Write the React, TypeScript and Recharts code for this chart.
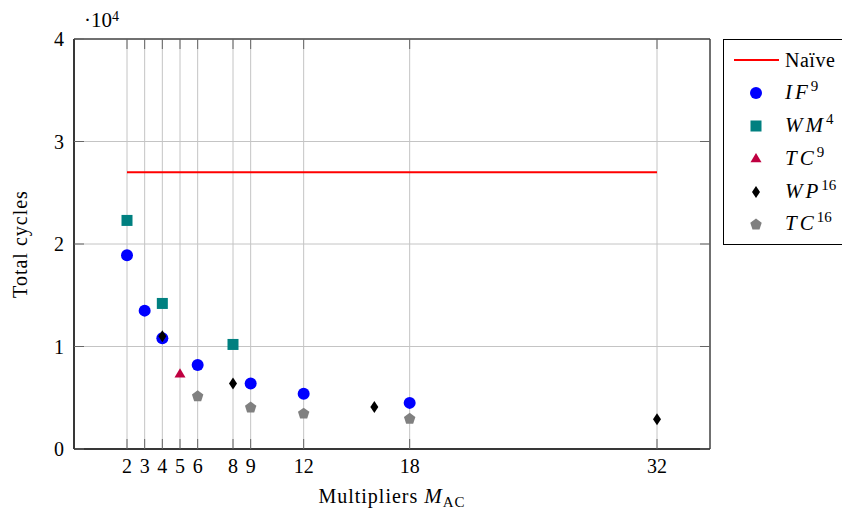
import React from 'react';
import {
  ComposedChart,
  Scatter,
  XAxis,
  YAxis,
  CartesianGrid,
  ReferenceArea,
} from 'recharts';

// ---------- data ----------
const xTicks = [2, 3, 4, 5, 6, 8, 9, 12, 18, 32];
const yTicks = [0, 10000, 20000, 30000, 40000];

const naiveX = [2, 32];
const naiveY = [27000, 27000];

const if9X = [2, 3, 4, 6, 9, 12, 18];
const if9Y = [18900, 13500, 10800, 8200, 6400, 5400, 4500];

const wm4X = [2, 4, 8];
const wm4Y = [22300, 14200, 10200];

const tc9X = [5];
const tc9Y = [7300];

const wp16X = [4, 8, 16, 32];
const wp16Y = [11000, 6400, 4100, 2900];

const tc16X = [6, 9, 12, 18];
const tc16Y = [5200, 4100, 3500, 3000];

const zip = (xs: number[], ys: number[]) => xs.map((x, i) => ({ x, y: ys[i] }));

// ---------- layout ----------
const FONT = '"Liberation Serif", "Times New Roman", serif';
const CHART_W = 842;
const CHART_H = 506;
const PLOT_LEFT = 66;
const PLOT_TOP = 31;
const PLOT_W = 636;
const PLOT_H = 410;
const TICK_LEN = 10;
const TICK_COLOR = '#666';

const COLORS = {
  naive: '#ff0000',
  if9: '#0000ff',
  wm4: '#008080',
  tc9: '#bf0040',
  wp16: '#000000',
  tc16: '#808080',
};

// ---------- marker shapes ----------
const Circle = (p: any) => <circle cx={p.cx} cy={p.cy} r={6} fill={COLORS.if9} />;
const Square = (p: any) => (
  <rect x={p.cx - 5.5} y={p.cy - 5.5} width={11} height={11} fill={COLORS.wm4} />
);
const Triangle = (p: any) => (
  <polygon
    points={`${p.cx},${p.cy - 6} ${p.cx - 5.5},${p.cy + 3.2} ${p.cx + 5.5},${p.cy + 3.2}`}
    fill={COLORS.tc9}
  />
);
const Diamond = (p: any) => (
  <polygon
    points={`${p.cx},${p.cy - 6} ${p.cx + 4},${p.cy} ${p.cx},${p.cy + 6} ${p.cx - 4},${p.cy}`}
    fill={COLORS.wp16}
  />
);
const pentPoints = (cx: number, cy: number, r: number) =>
  [0, 1, 2, 3, 4]
    .map((i) => {
      const a = -Math.PI / 2 + (i * 2 * Math.PI) / 5;
      return `${cx + r * Math.cos(a)},${cy + r * Math.sin(a) + 0.6}`;
    })
    .join(' ');
const Pentagon = (p: any) => <polygon points={pentPoints(p.cx, p.cy, 6)} fill={COLORS.tc16} />;
const NoShape = () => <g />;

// ---------- ticks ----------
const XTick = (props: any) => {
  const { x, y, payload } = props;
  return (
    <g>
      <line x1={x} y1={y} x2={x} y2={y - TICK_LEN} stroke={TICK_COLOR} strokeWidth={1} />
      <line x1={x} y1={y - PLOT_H} x2={x} y2={y - PLOT_H + TICK_LEN} stroke={TICK_COLOR} strokeWidth={1} />
      <text x={x} y={y + 24} textAnchor="middle" fontFamily={FONT} fontSize={20} fill="#000">
        {payload.value}
      </text>
    </g>
  );
};

const YTick = (props: any) => {
  const { x, y, payload } = props;
  return (
    <g>
      <line x1={x} y1={y} x2={x + TICK_LEN} y2={y} stroke={TICK_COLOR} strokeWidth={1} />
      <line x1={x + PLOT_W} y1={y} x2={x + PLOT_W - TICK_LEN} y2={y} stroke={TICK_COLOR} strokeWidth={1} />
      <text x={x - 10} y={y + 7} textAnchor="end" fontFamily={FONT} fontSize={20} fill="#000">
        {payload.value / 10000}
      </text>
    </g>
  );
};

const YLabel = (props: any) => {
  const vb = props.viewBox || { x: 0, y: PLOT_TOP, width: PLOT_LEFT, height: PLOT_H };
  const cy = vb.y + vb.height / 2;
  return (
    <g>
      <text
        transform={`translate(19, ${cy}) rotate(-90)`}
        textAnchor="middle"
        fontFamily={FONT}
        fontSize={20}
        letterSpacing={1}
        fill="#000"
      >
        Total cycles
      </text>
      <text x={vb.x + vb.width + 10} y={vb.y - 12} fontFamily={FONT} fontSize={21} fill="#000">
        ·10
        <tspan dy={-6} fontSize={14}>
          4
        </tspan>
      </text>
    </g>
  );
};

const XLabel = (props: any) => {
  const vb = props.viewBox || { x: PLOT_LEFT, y: PLOT_TOP + PLOT_H, width: PLOT_W, height: 65 };
  const cx = vb.x + vb.width / 2;
  return (
    <text
      x={cx}
      y={vb.y + 54}
      textAnchor="middle"
      fontFamily={FONT}
      fontSize={20}
      letterSpacing={1}
      fill="#000"
    >
      Multipliers <tspan fontStyle="italic" fontSize={21}>M</tspan>
      <tspan dy={4} fontSize={15}>
        AC
      </tspan>
    </text>
  );
};

// ---------- legend ----------
const legendItems = [
  { key: 'naive', main: 'Naïve', sup: '', italic: false },
  { key: 'if9', main: 'IF', sup: '9', italic: true },
  { key: 'wm4', main: 'WM', sup: '4', italic: true },
  { key: 'tc9', main: 'TC', sup: '9', italic: true },
  { key: 'wp16', main: 'WP', sup: '16', italic: true },
  { key: 'tc16', main: 'TC', sup: '16', italic: true },
];

const LegendMarker = ({ k }: { k: string }) => {
  const cx = 23;
  const cy = 10;
  let m: React.ReactNode = null;
  if (k === 'naive') m = <line x1={1} y1={cy} x2={46} y2={cy} stroke={COLORS.naive} strokeWidth={2} />;
  if (k === 'if9') m = <Circle cx={cx} cy={cy} />;
  if (k === 'wm4') m = <Square cx={cx} cy={cy} />;
  if (k === 'tc9') m = <Triangle cx={cx} cy={cy} />;
  if (k === 'wp16') m = <Diamond cx={cx} cy={cy} />;
  if (k === 'tc16') m = <Pentagon cx={cx} cy={cy} />;
  return (
    <svg width={48} height={20} style={{ display: 'block' }}>
      {m}
    </svg>
  );
};

const LegendBox = () => (
  <div
    style={{
      position: 'absolute',
      left: 715,
      top: 31,
      width: 126,
      height: 206,
      border: '1px solid #000',
      boxSizing: 'border-box',
      background: '#fff',
      fontFamily: FONT,
      fontSize: 20,
      paddingTop: 4,
    }}
  >
    {legendItems.map((it) => (
      <div key={it.key} style={{ height: 32.8, display: 'flex', alignItems: 'center' }}>
        <div style={{ marginLeft: 9, width: 52 }}>
          <LegendMarker k={it.key} />
        </div>
        <div style={{ whiteSpace: 'nowrap', lineHeight: '20px' }}>
          <span
            style={{
              fontStyle: it.italic ? 'italic' : 'normal',
              fontSize: it.italic ? 21 : 20,
              letterSpacing: it.italic ? 3 : 0.5,
            }}
          >
            {it.main}
          </span>
          {it.sup && (
            <span style={{ fontSize: 15, position: 'relative', top: -8, marginLeft: 0 }}>{it.sup}</span>
          )}
        </div>
      </div>
    ))}
  </div>
);

export default function App() {
  return (
    <div style={{ position: 'relative', width: CHART_W, height: CHART_H }}>
      <ComposedChart
        width={CHART_W}
        height={CHART_H}
        style={{ overflow: 'visible' }}
        margin={{ top: PLOT_TOP, right: CHART_W - PLOT_LEFT - PLOT_W, bottom: 0, left: 0 }}
      >
        <CartesianGrid stroke="#c4c4c4" strokeWidth={1} />
        <XAxis
          type="number"
          dataKey="x"
          domain={[-1, 35]}
          ticks={xTicks}
          interval={0}
          height={CHART_H - PLOT_TOP - PLOT_H}
          tickSize={0}
          tickMargin={0}
          tickLine={false}
          axisLine={{ stroke: '#000', strokeWidth: 1 }}
          tick={<XTick />}
          label={{ content: XLabel } as any}
          allowDataOverflow
        />
        <YAxis
          type="number"
          dataKey="y"
          domain={[0, 40000]}
          ticks={yTicks}
          interval={0}
          width={PLOT_LEFT}
          tickSize={0}
          tickMargin={0}
          tickLine={false}
          axisLine={{ stroke: '#000', strokeWidth: 1 }}
          tick={<YTick />}
          label={{ content: YLabel } as any}
          allowDataOverflow
        />
        <ReferenceArea x1={-1} x2={35} y1={0} y2={40000} fill="none" stroke="#000" strokeWidth={1} />
        <Scatter
          data={zip(naiveX, naiveY)}
          line={{ stroke: COLORS.naive, strokeWidth: 2 }}
          shape={NoShape}
          isAnimationActive={false}
        />
        <Scatter data={zip(if9X, if9Y)} shape={Circle} isAnimationActive={false} />
        <Scatter data={zip(wm4X, wm4Y)} shape={Square} isAnimationActive={false} />
        <Scatter data={zip(tc9X, tc9Y)} shape={Triangle} isAnimationActive={false} />
        <Scatter data={zip(wp16X, wp16Y)} shape={Diamond} isAnimationActive={false} />
        <Scatter data={zip(tc16X, tc16Y)} shape={Pentagon} isAnimationActive={false} />
      </ComposedChart>
      <LegendBox />
    </div>
  );
}
